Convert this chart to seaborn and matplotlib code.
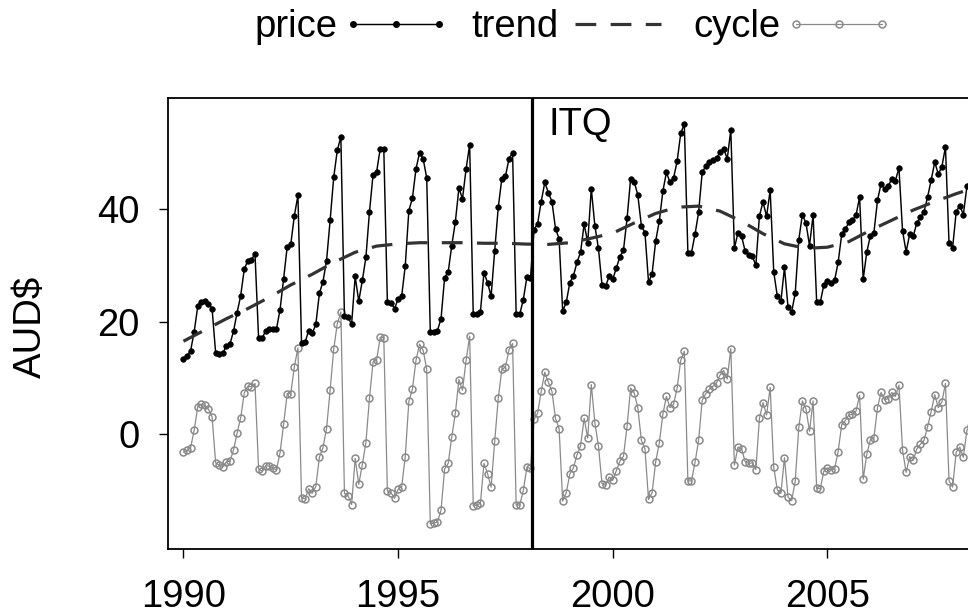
import numpy as np
import pandas as pd
import matplotlib
matplotlib.use("Agg")
import matplotlib.pyplot as plt
from matplotlib.lines import Line2D
import seaborn as sns

# ---------------- data (monthly, starting Jan 1990) ----------------
start_year = 1990

price = [
    13.3, 13.9, 14.8, 18.2, 22.7, 23.5, 23.6, 23.2, 22.3, 14.4, 14.3, 14.4,   # 1990
    15.6, 16.0, 18.3, 21.6, 24.6, 29.3, 30.8, 31.0, 32.0, 17.1, 17.0, 18.4,   # 1991
    18.6, 18.6, 18.7, 22.1, 27.6, 33.3, 33.7, 38.8, 42.4, 16.2, 16.3, 18.4,   # 1992
    17.9, 19.5, 25.0, 27.1, 30.8, 38.0, 45.6, 50.4, 52.8, 20.9, 20.8, 19.5,   # 1993
    28.0, 23.6, 27.3, 31.4, 39.5, 46.1, 46.6, 50.7, 50.7, 23.5, 23.3, 22.3,   # 1994
    24.0, 24.5, 29.9, 39.7, 41.9, 47.1, 50.0, 48.9, 45.5, 18.1, 18.2, 18.4,   # 1995
    20.5, 27.8, 28.8, 33.5, 37.7, 43.7, 41.8, 47.1, 51.4, 21.3, 21.4, 21.7,   # 1996
    28.7, 26.9, 24.5, 32.6, 40.3, 45.4, 45.8, 48.9, 50.0, 21.3, 21.3, 23.9,   # 1997
    27.9, 27.7, 36.3, 37.4, 41.3, 44.7, 42.9, 41.3, 36.5, 34.7, 21.9, 23.4,   # 1998
    26.9, 28.1, 30.5, 32.3, 37.3, 34.0, 43.6, 37.0, 33.0, 26.5, 26.3, 28.0,   # 1999
    27.5, 29.5, 31.5, 32.7, 38.3, 45.4, 44.8, 42.5, 37.0, 35.8, 27.0, 28.5,   # 2000
    34.3, 37.8, 43.1, 46.5, 44.7, 45.5, 48.5, 53.4, 55.1, 32.2, 32.2, 35.5,   # 2001
    39.4, 46.5, 47.6, 48.3, 48.6, 49.0, 50.1, 50.7, 48.9, 54.0, 33.0, 35.8,   # 2002
    35.2, 32.5, 31.9, 31.6, 30.0, 38.8, 41.2, 38.7, 43.3, 28.8, 24.5, 23.6,   # 2003
    29.6, 22.5, 21.7, 25.0, 34.5, 39.0, 37.5, 33.5, 38.9, 23.4, 23.4, 26.5,   # 2004
    27.2, 26.9, 27.3, 30.5, 35.5, 36.4, 37.6, 38.0, 38.9, 42.1, 27.5, 32.3,   # 2005
    35.2, 35.8, 41.5, 44.5, 43.5, 44.0, 45.4, 45.0, 47.3, 36.1, 32.4, 35.5,   # 2006
    35.2, 37.5, 38.5, 39.5, 42.1, 45.1, 48.3, 46.2, 47.5, 51.0, 33.9, 33.1,   # 2007
    39.5, 40.6, 39.0, 44.0, 45.0,                                             # 2008
]

cycle = [
    -3.2, -2.9, -2.4, 0.7, 4.9, 5.3, 5.1, 4.4, 3.1, -5.1, -5.5, -5.8,         # 1990
    -4.9, -4.8, -2.8, 0.2, 2.9, 7.3, 8.5, 8.4, 9.0, -6.2, -6.6, -5.6,         # 1991
    -5.7, -6.1, -6.3, -3.3, 1.8, 7.2, 7.2, 12.0, 15.3, -11.3, -11.5, -9.7,    # 1992
    -10.5, -9.3, -4.1, -2.4, 1.0, 7.8, 15.1, 19.6, 21.7, -10.5, -10.9, -12.5, # 1993
    -4.3, -8.9, -5.4, -1.5, 6.4, 12.8, 13.2, 17.2, 17.1, -10.1, -10.4, -11.4, # 1994
    -9.8, -9.3, -4.0, 5.8, 8.0, 13.1, 16.0, 14.9, 11.5, -15.9, -15.8, -15.6,  # 1995
    -13.5, -6.2, -5.2, -0.5, 3.7, 9.7, 7.8, 13.1, 17.4, -12.7, -12.6, -12.3,  # 1996
    -5.2, -7.0, -9.4, -1.3, 6.4, 11.5, 11.9, 15.0, 16.1, -12.6, -12.6, -10.0, # 1997
    -5.9, -6.1, 2.6, 3.7, 7.6, 11.0, 9.2, 7.6, 2.8, 1.0, -11.9, -10.4,        # 1998
    -7.1, -6.0, -3.7, -2.1, 2.8, -0.7, 8.8, 2.0, -2.1, -8.8, -9.1, -7.6,      # 1999
    -8.2, -6.5, -4.8, -3.9, 1.4, 8.2, 7.3, 4.7, -1.1, -2.6, -11.6, -10.4,     # 2000
    -4.9, -1.6, 3.5, 6.7, 4.7, 5.3, 8.2, 13.1, 14.7, -8.3, -8.3, -5.0,        # 2001
    -1.1, 6.0, 7.2, 8.0, 8.5, 9.1, 10.5, 11.3, 9.8, 15.2, -5.5, -2.3,         # 2002
    -2.6, -4.9, -5.2, -5.1, -6.3, 2.8, 5.6, 3.4, 8.3, -5.9, -9.9, -10.5,      # 2003
    -4.2, -11.2, -11.8, -8.4, 1.2, 5.9, 4.5, 0.5, 5.9, -9.6, -9.7, -6.6,      # 2004
    -6.0, -6.4, -6.2, -3.1, 1.7, 2.4, 3.4, 3.5, 4.1, 6.9, -8.0, -3.6,         # 2005
    -1.0, -0.7, 4.7, 7.4, 6.1, 6.3, 7.4, 6.7, 8.7, -2.8, -6.8, -4.0,          # 2006
    -4.6, -2.6, -1.8, -1.1, 1.3, 4.0, 7.0, 4.7, 5.7, 9.0, -8.3, -9.4,         # 2007
    -3.2, -2.3, -4.1, 0.7, 1.5,                                               # 2008
]

trend_time = [1990.0, 1990.5, 1991.0, 1991.5, 1992.0, 1992.5, 1993.0, 1993.5,
              1994.0, 1994.5, 1995.0, 1995.5, 1996.0, 1996.5, 1997.0, 1997.5,
              1998.0, 1998.5, 1999.0, 1999.5, 2000.0, 2000.5, 2001.0, 2001.5,
              2002.0, 2002.5, 2003.0, 2003.5, 2004.0, 2004.5, 2005.0, 2005.5,
              2006.0, 2006.5, 2007.0, 2007.5, 2008.0, 2008.4]
trend_vals = [16.5, 18.5, 20.5, 22.3, 24.3, 26.5, 28.4, 30.5,
              32.3, 33.4, 33.8, 34.0, 34.0, 34.0, 33.9, 33.9,
              33.75, 33.7, 34.0, 34.8, 35.7, 37.5, 39.2, 40.3,
              40.5, 39.6, 37.8, 35.6, 33.8, 33.0, 33.2, 34.2,
              36.2, 38.0, 39.8, 41.3, 42.7, 43.7]

itq_year = 1998.13
itq_label = "ITQ"
x_ticks = [1990, 1995, 2000, 2005]
y_ticks = [0, 20, 40]
series_labels = ["price", "trend", "cycle"]
y_label = "AUD$"

# ---------------- build frames ----------------
months = np.arange(len(price))
time = start_year + months / 12.0
df = pd.DataFrame({"time": time, "price": price, "cycle": cycle})
df_trend = pd.DataFrame({"time": trend_time, "trend": trend_vals})

# ---------------- style ----------------
sns.set_style("ticks")
plt.rcParams["font.family"] = ["Liberation Sans", "DejaVu Sans"]
plt.rcParams["text.color"] = "black"
plt.rcParams["axes.labelcolor"] = "black"
plt.rcParams["xtick.color"] = "black"
plt.rcParams["ytick.color"] = "black"
plt.rcParams["axes.edgecolor"] = "black"
FS = 27.5

W, H = 968, 614
fig = plt.figure(figsize=(W / 100, H / 100), dpi=100)
ax_left, ax_top, ax_bottom = 168, 98, 549
x_lo, x_hi = 1989.64, 2009.0
px_per_year = 42.93
ax_w = (x_hi - x_lo) * px_per_year
ax = fig.add_axes([ax_left / W, (H - ax_bottom) / H, ax_w / W, (ax_bottom - ax_top) / H])

price_col = "black"
trend_col = "#333333"
cycle_col = "#8a8a8a"

sns.lineplot(data=df, x="time", y="cycle", ax=ax, color=cycle_col, lw=0.9,
             marker="o", markersize=5.0, markerfacecolor="none",
             markeredgecolor=cycle_col, markeredgewidth=1.1,
             estimator=None, sort=False, zorder=2)
sns.lineplot(data=df, x="time", y="price", ax=ax, color=price_col, lw=1.05,
             marker="o", markersize=4.0, markerfacecolor=price_col,
             markeredgecolor=price_col, markeredgewidth=0.5,
             estimator=None, sort=False, zorder=3)
sns.lineplot(data=df_trend, x="time", y="trend", ax=ax, color=trend_col, lw=2.3,
             linestyle=(0, (6.5, 4.5)), estimator=None, sort=False, zorder=4)

ax.axvline(itq_year, color="black", lw=2.3, zorder=5)
ax.text(1998.50, 53.1, itq_label, fontsize=FS, color="black", ha="left",
        va="baseline", zorder=6)

ax.set_xlim(x_lo, x_hi)
ax.set_ylim(-20.4, 59.7)
ax.set_xticks(x_ticks)
ax.set_yticks(y_ticks)
ax.set_xlabel("")
ax.set_ylabel("")
ax.tick_params(axis="both", labelsize=FS, length=6.5, width=1.0, color="black",
               labelcolor="black", direction="out")
ax.tick_params(axis="y", pad=14)
ax.tick_params(axis="x", pad=15)
for s in ["left", "top", "bottom"]:
    ax.spines[s].set_linewidth(1.3)
    ax.spines[s].set_color("black")
ax.spines["right"].set_visible(False)

fig.text(31 / W, 1 - 327 / H, y_label, rotation=90, ha="center", va="center",
         fontsize=FS, color="black")

handles = [
    Line2D([], [], color=price_col, lw=1.05, marker="o", ms=4.0, mfc=price_col,
           mec=price_col),
    Line2D([], [], color=trend_col, lw=2.3, linestyle=(0, (6.5, 4.5))),
    Line2D([], [], color=cycle_col, lw=0.9, marker="o", ms=5.0, mfc="none",
           mec=cycle_col, mew=1.1),
]
leg = fig.legend(handles, series_labels, loc="center",
                 bbox_to_anchor=(574 / W, 1 - 27 / H),
                 ncol=3, frameon=False, markerfirst=False, numpoints=3, fontsize=FS,
                 handlelength=2.85, handletextpad=0.12, columnspacing=0.55,
                 borderpad=0, borderaxespad=0)
for t in leg.get_texts():
    t.set_color("black")

fig.savefig("out.png", dpi=100)
